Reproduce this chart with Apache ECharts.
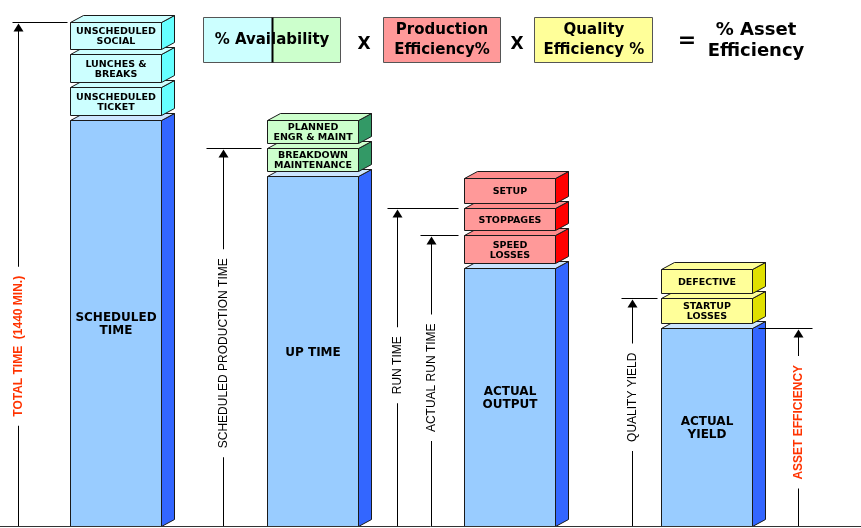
<!DOCTYPE html>
<html>
<head>
<meta charset="utf-8">
<script src="https://cdn.jsdelivr.net/npm/echarts@6/dist/echarts.min.js"></script>
<style>
  html, body { margin: 0; padding: 0; background: #fff; }
  #chart { width: 861px; height: 528px; }
</style>
</head>
<body>
<div id="chart"></div>
<script>
// columns (bottom block of each stack)
const columns = ['SCHEDULED\nTIME', 'UP TIME', 'ACTUAL\nOUTPUT', 'ACTUAL\nYIELD'];
const baseValues = [1160, 1000, 737, 566]; // minutes

// loss blocks stacked on each column, bottom to top
const lossNames = [
  ['UNSCHEDULED\nTICKET', 'LUNCHES &\nBREAKS', 'UNSCHEDULED\nSOCIAL'],
  ['BREAKDOWN\nMAINTENANCE', 'PLANNED\nENGR & MAINT'],
  ['SPEED\nLOSSES', 'STOPPAGES', 'SETUP'],
  ['STARTUP\nLOSSES', 'DEFECTIVE']
];
const lossValues = [
  [95, 95, 90],
  [80, 80],
  [94, 77, 86],
  [86, 83]
];

// measuring arrows: column they belong to, and how many loss blocks they include
const arrowNames = ['TOTAL TIME  (1440 MIN.)', 'SCHEDULED PRODUCTION TIME', 'RUN TIME',
                    'ACTUAL RUN TIME', 'QUALITY YIELD', 'ASSET EFFICIENCY'];
const arrowColumn = [0, 1, 2, 2, 3, 3];
const arrowLevels = [3, 1, 2, 1, 1, 0];

// ---- look & layout ----
const DX = 13, DY = 7, GAP = 5;   // 3d depth, gap between blocks
const EDGE = '#1a1a1a';
const baseColors = { front: '#99ccff', side: '#3366ff', top: '#cce5ff' };
const lossColors = [
  { front: '#ccffff', side: '#66ffff', top: '#ccffff' },
  { front: '#ccffcc', side: '#339966', top: '#ccffcc' },
  { front: '#ff9999', side: '#ff0000', top: '#ff8c8c' },
  { front: '#ffff99', side: '#e0e000', top: '#ffff99' }
];
const BASE_FONT = 'bold 12px "DejaVu Sans"';
const BOX_FONT = 'bold 9.5px "DejaVu Sans"';
// arrow x offset from column centre, tick line extent, label shift from mid
const arrowOffset = [-97, -89.5, -112.5, -78.5, -74, 92];
const tickExtent = [[-6, 49], [-17, 38], [-10, 61], [-11, 27], [-11, 25], [-40, 14]];
const labelShift = [72, 16, -2, -3, -15, -5];
const arrowRed = [true, false, false, false, false, true];

// ---- build data ----
const boxData = [];
columns.forEach(function (name, c) {
  boxData.push([c, 0, baseValues[c], -1]);
  let start = baseValues[c];
  lossValues[c].forEach(function (v, k) {
    boxData.push([c, start, start + v, k]);
    start += v;
  });
});

const arrowData = arrowColumn.map(function (c, i) {
  let v = baseValues[c];
  for (let k = 0; k < arrowLevels[i]; k++) v += lossValues[c][k];
  return [c, v];
});

function renderBox(params, api) {
  const c = api.value(0), v0 = api.value(1), v1 = api.value(2), k = api.value(3);
  const band = api.size([1, 0])[0];
  const w = Math.round(band * 0.46);
  const pTop = api.coord([c, v1]);
  const pBot = api.coord([c, v0]);
  const x0 = Math.round(pTop[0] - w / 2) + 0.5, x1 = x0 + w;
  const yT = Math.round(pTop[1]) + 0.5;
  const yB = Math.round(pBot[1]) + 0.5 - (k >= 0 ? GAP : 0);
  const col = k < 0 ? baseColors : lossColors[c];
  const label = k < 0 ? columns[c] : lossNames[c][k];
  return {
    type: 'group',
    children: [
      { type: 'polygon', shape: { points: [[x1, yT], [x1 + DX, yT - DY], [x1 + DX, yB - DY], [x1, yB]] },
        style: { fill: col.side, stroke: EDGE, lineWidth: 1 } },
      { type: 'polygon', shape: { points: [[x0, yT], [x0 + DX, yT - DY], [x1 + DX, yT - DY], [x1, yT]] },
        style: { fill: col.top, stroke: EDGE, lineWidth: 1 } },
      { type: 'rect', shape: { x: x0, y: yT, width: w, height: yB - yT },
        style: { fill: col.front, stroke: EDGE, lineWidth: 1 } },
      { type: 'text', style: {
          text: label, x: (x0 + x1) / 2, y: (yT + yB) / 2 + 1,
          align: 'center', verticalAlign: 'middle',
          font: k < 0 ? BASE_FONT : BOX_FONT, lineHeight: k < 0 ? 13 : 10, fill: '#000'
      } }
    ]
  };
}

function renderArrow(params, api) {
  const i = params.dataIndex;
  const c = api.value(0), v = api.value(1);
  const pTop = api.coord([c, v]);
  const pBot = api.coord([c, 0]);
  const x = Math.round(pTop[0] + arrowOffset[i]) + 0.5;
  const yT = Math.round(pTop[1]) + 0.5, yB = Math.round(pBot[1]);
  const red = arrowRed[i];
  const children = [
    { type: 'line', shape: { x1: x + tickExtent[i][0], y1: yT, x2: x + tickExtent[i][1], y2: yT },
      style: { stroke: '#000', lineWidth: 1 } },
    { type: 'line', shape: { x1: x, y1: yT + 4, x2: x, y2: yB },
      style: { stroke: '#000', lineWidth: 1 } },
    { type: 'polygon', shape: { points: [[x, yT + 1], [x - 5, yT + 9], [x + 5, yT + 9]] },
      style: { fill: '#000' } },
    { type: 'text', x: x, y: (yT + yB) / 2 + labelShift[i], rotation: Math.PI / 2,
      style: {
        text: arrowNames[i], x: 0, y: 0, align: 'center', verticalAlign: 'middle',
        font: (red ? 'bold ' : '') + '12px "Liberation Sans"', fill: red ? '#ff3300' : '#000',
        backgroundColor: '#fff', padding: [1, 9]
      } }
  ];
  if (i === 0) {
    children.unshift({ type: 'line', shape: { x1: 0, y1: yB + 0.5, x2: api.getWidth(), y2: yB + 0.5 },
      style: { stroke: '#333', lineWidth: 1 } });
  }
  return { type: 'group', children: children };
}

// equation across the top
const HEAD_FONT = 'bold 15px "DejaVu Sans"';
const header = [
  { type: 'rect', shape: { x: 203.5, y: 17.5, width: 69, height: 45 }, style: { fill: '#ccffff', stroke: '#555' } },
  { type: 'rect', shape: { x: 272.5, y: 17.5, width: 68, height: 45 }, style: { fill: '#ccffcc', stroke: '#555' } },
  { type: 'line', shape: { x1: 272.5, y1: 17.5, x2: 272.5, y2: 62.5 }, style: { stroke: '#000', lineWidth: 2 } },
  { type: 'text', style: { text: '% Availability', x: 272, y: 40, align: 'center', verticalAlign: 'middle', font: HEAD_FONT, fill: '#000' } },
  { type: 'text', style: { text: 'X', x: 364, y: 45, align: 'center', verticalAlign: 'middle', font: 'bold 17px "DejaVu Sans"', fill: '#000' } },
  { type: 'rect', shape: { x: 383.5, y: 17.5, width: 117, height: 45 }, style: { fill: '#ff9999', stroke: '#555' } },
  { type: 'text', style: { text: 'Production\nEfficiency%', x: 442, y: 40, align: 'center', verticalAlign: 'middle', font: HEAD_FONT, lineHeight: 20, fill: '#000' } },
  { type: 'text', style: { text: 'X', x: 517, y: 45, align: 'center', verticalAlign: 'middle', font: 'bold 17px "DejaVu Sans"', fill: '#000' } },
  { type: 'rect', shape: { x: 534.5, y: 17.5, width: 118, height: 45 }, style: { fill: '#ffff99', stroke: '#555' } },
  { type: 'text', style: { text: 'Quality\nEfficiency %', x: 594, y: 40, align: 'center', verticalAlign: 'middle', font: HEAD_FONT, lineHeight: 20, fill: '#000' } },
  { type: 'text', style: { text: '=', x: 687, y: 41, align: 'center', verticalAlign: 'middle', font: 'bold 22px "DejaVu Sans"', fill: '#000' } },
  { type: 'text', style: { text: '% Asset\nEfficiency', x: 756, y: 41, align: 'center', verticalAlign: 'middle', font: 'bold 18px "DejaVu Sans"', lineHeight: 21, fill: '#000' } }
];

const chart = echarts.init(document.getElementById('chart'), null, { renderer: 'canvas' });

chart.setOption({
  animation: false,
  backgroundColor: '#fff',
  grid: { left: 16.5, right: 56.5, top: 22, bottom: 2 },
  xAxis: { type: 'category', data: columns, show: false },
  yAxis: { type: 'value', min: 0, max: 1440, show: false },
  graphic: header,
  series: [
    { type: 'custom', renderItem: renderBox, data: boxData, encode: { x: 0, y: [1, 2] }, silent: true },
    { type: 'custom', renderItem: renderArrow, data: arrowData, encode: { x: 0, y: 1 }, silent: true, z: 3 }
  ]
});
</script>
</body>
</html>
